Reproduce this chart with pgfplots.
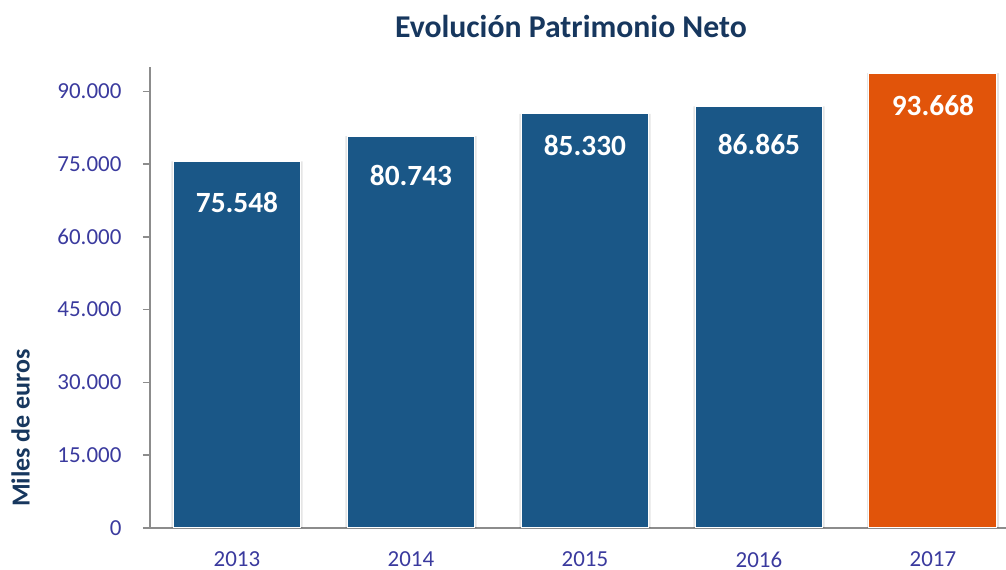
\documentclass[border=0pt]{standalone}
\usepackage{pgfplots}
\pgfplotsset{compat=1.18}
\usepackage{pgfplotstable}
\usepackage{fontspec}
\setmainfont{Carlito}
\definecolor{barblue}{HTML}{1A5787}
\definecolor{barorange}{HTML}{E1540A}
\definecolor{tickcol}{HTML}{3A3A9E}
\definecolor{titlecol}{HTML}{17375E}
\definecolor{axcol}{HTML}{8C8C8C}

\pgfplotstableread{
x y
0 75548
1 80743
2 85330
3 86865
}\bluedata
\pgfplotstableread{
x y
4 93668
}\orangedata
\pgfplotstableread{
x ly lab
0 67130 75.548
1 72550 80.743
2 78880 85.330
3 78950 86.865
4 87000 93.668
}\labeldata

\begin{document}
\begin{tikzpicture}
\begin{axis}[
  scale only axis,
  width=642pt, height=345.75pt,
  xmin=-0.5, xmax=4.42,
  ymin=0, ymax=95000,
  clip=false,
  axis x line*=bottom, axis y line*=left,
  axis line style={draw=axcol, line width=1.1pt, -},
  xtick={0,1,2,3,4},
  xticklabels={2013,2014,2015,2016,2017},
  xtick style={draw=none},
  ytick={0,15000,30000,45000,60000,75000,90000},
  ytick style={draw=axcol, line width=1.1pt},
  tick align=outside,
  major tick length=5.25pt,
  scaled y ticks=false,
  /pgf/number format/.cd, fixed, 1000 sep={.}, assume math mode=true,
  /pgfplots/.cd,
  tick label style={font=\fontsize{17.2}{21}\selectfont, text=tickcol},
  yticklabel style={anchor=east, inner sep=0pt, xshift=-16pt},
  xticklabel style={anchor=north, inner sep=0pt, text depth=0pt, yshift=-12.6pt},
  title={Evolución Patrimonio Neto},
  title style={at={(0.4918,1)}, anchor=base, yshift=16.2pt,
    font=\bfseries\fontsize{23.8}{28}\selectfont, text=titlecol, inner sep=0pt},
  ylabel={Miles de euros},
  ylabel style={at={(axis description cs:-0.1513,0.217)}, anchor=center, rotate=0,
    font=\bfseries\fontsize{19.5}{23}\selectfont, text=titlecol},
]
% shadows
\addplot[ybar, bar width=0.755, bar shift=0pt, fill=black, fill opacity=0.10, draw=none]
  table[x=x,y=y] {\bluedata};
\addplot[ybar, bar width=0.755, bar shift=0pt, fill=black, fill opacity=0.10, draw=none]
  table[x=x,y=y] {\orangedata};
% bars
\addplot[ybar, bar width=0.735, bar shift=0pt, fill=barblue, draw=white, line width=0.75pt]
  table[x=x,y=y] {\bluedata};
\addplot[ybar, bar width=0.735, bar shift=0pt, fill=barorange, draw=white, line width=0.75pt]
  table[x=x,y=y] {\orangedata};
% labels
\addplot[draw=none, mark=none, nodes near coords, point meta=explicit symbolic,
  nodes near coords align={center},
  every node near coord/.append style={anchor=center, text=white,
    font=\bfseries\fontsize{22}{26}\selectfont}]
  table[x=x,y=ly,meta=lab] {\labeldata};
\coordinate (sw) at (rel axis cs:0,0);
\coordinate (ne) at (rel axis cs:1,1);
\end{axis}
\pgfresetboundingbox
\path[use as bounding box] ([shift={(-112.5pt,-31.5pt)}]sw) rectangle ([shift={(0pt,50.25pt)}]ne);
\end{tikzpicture}
\end{document}
